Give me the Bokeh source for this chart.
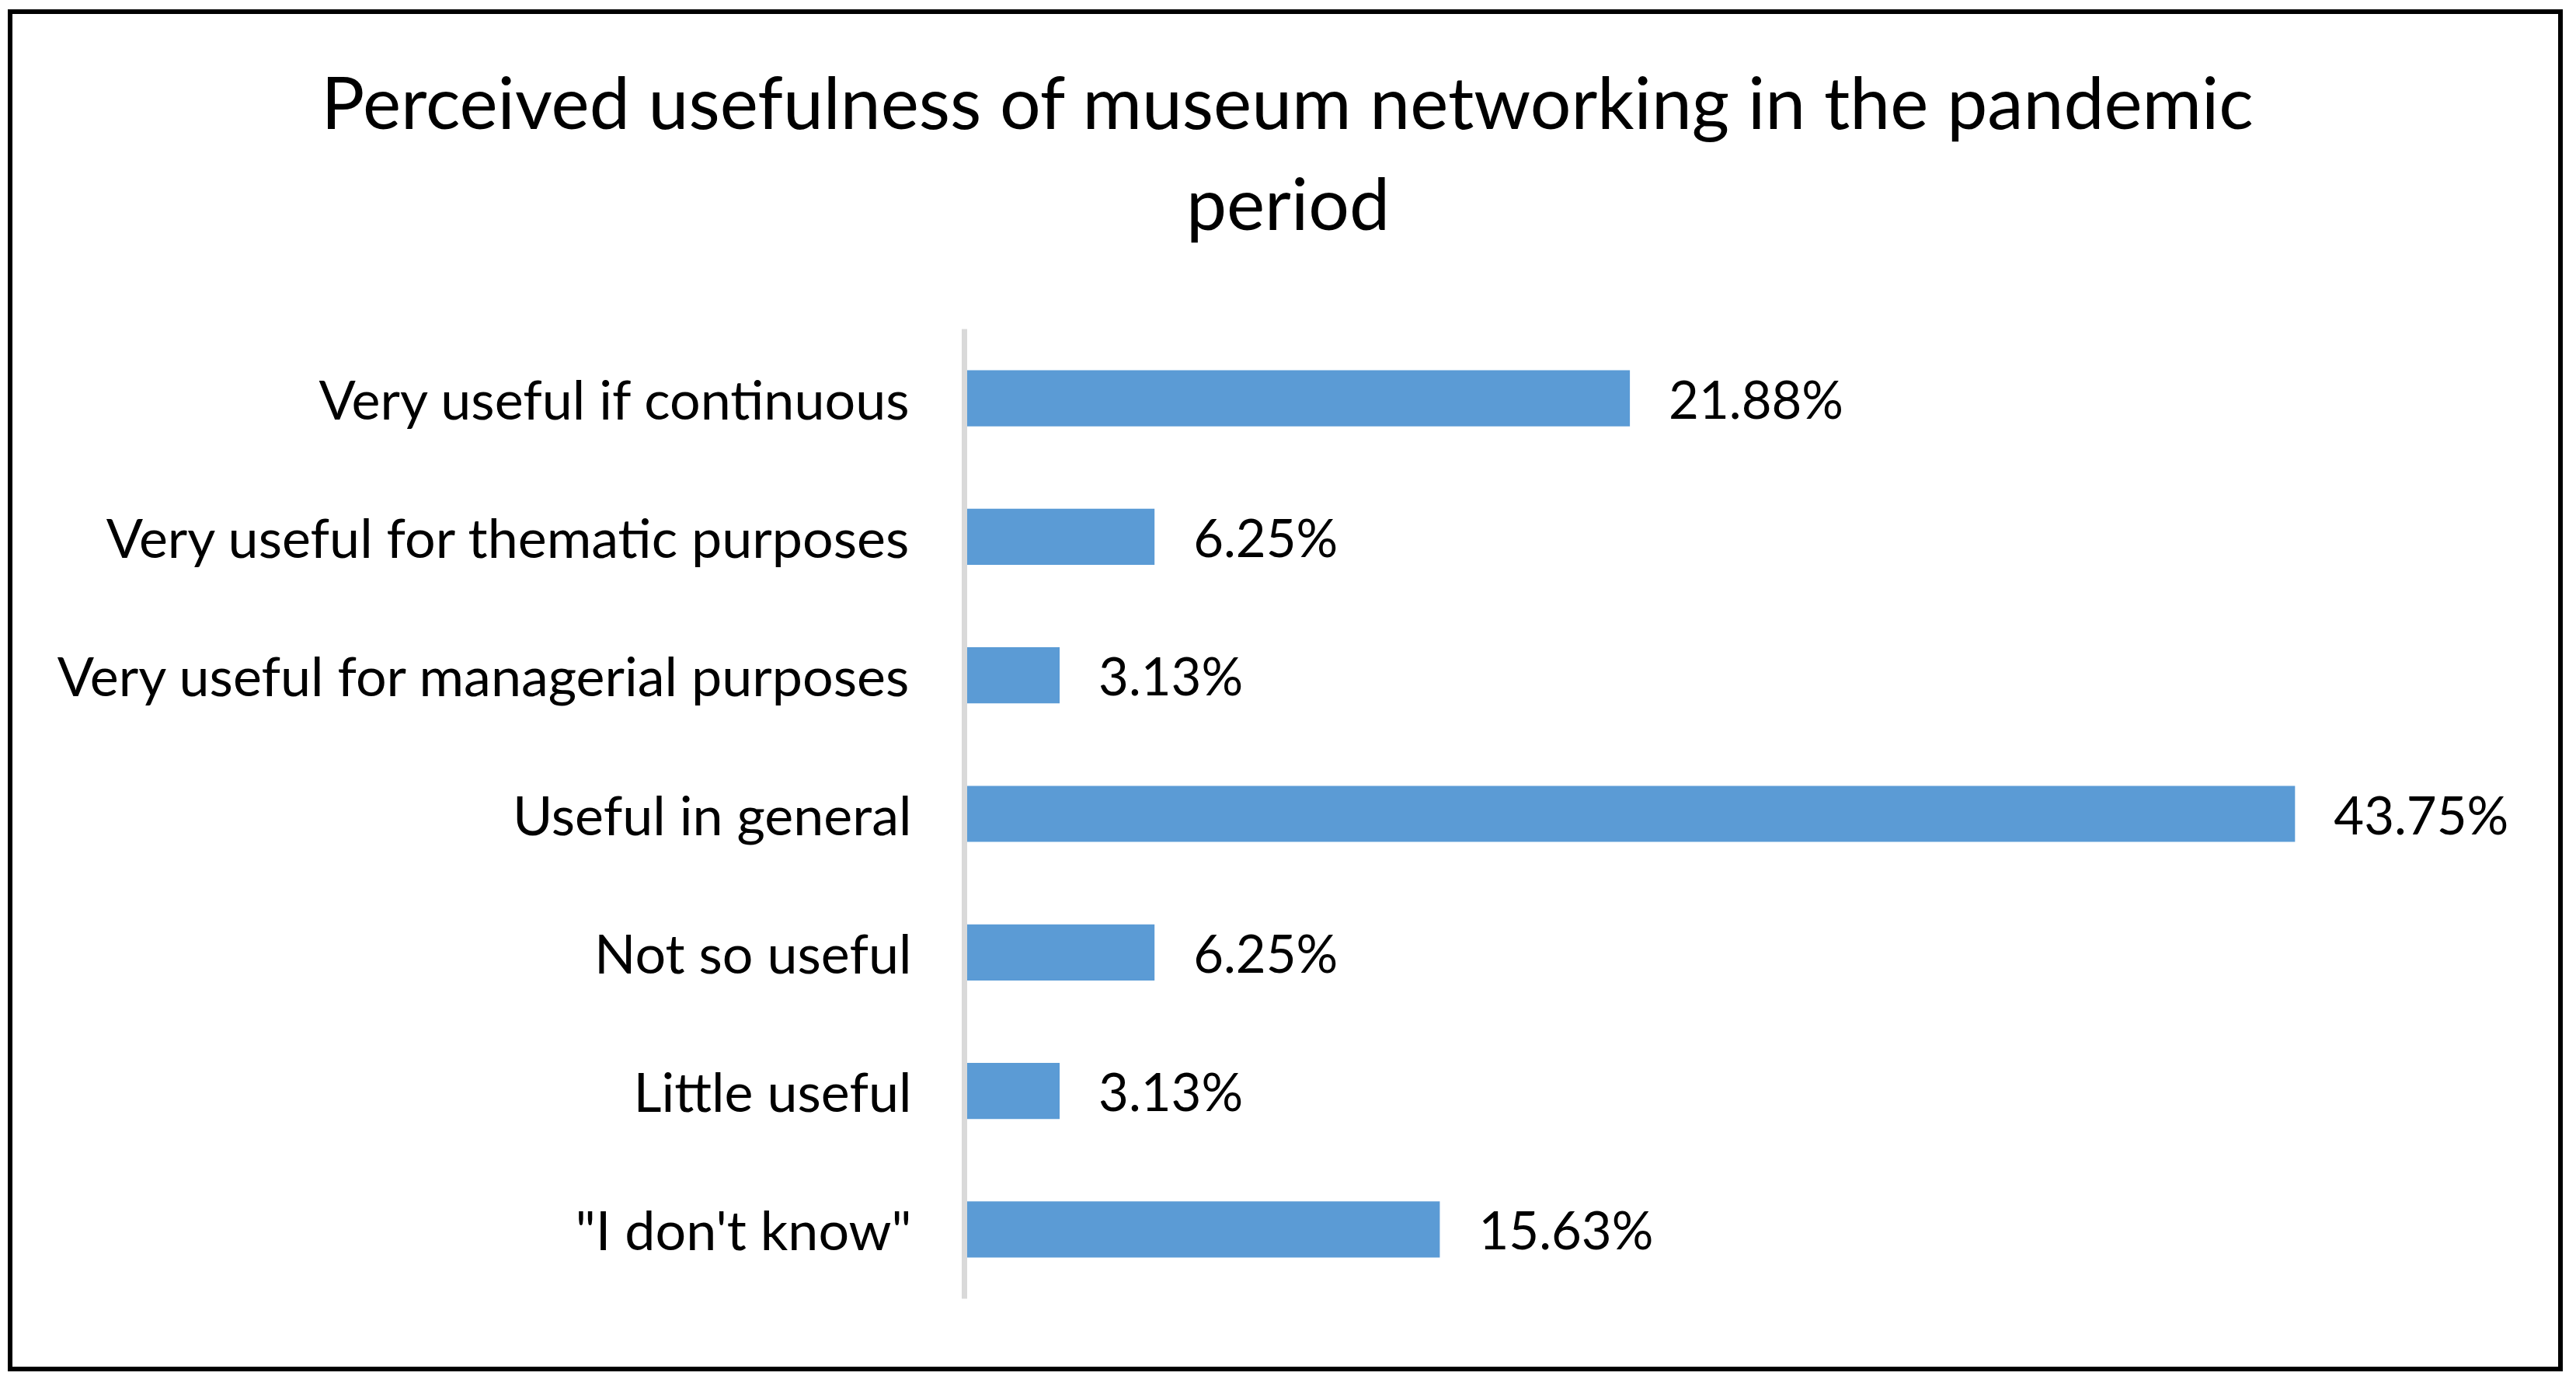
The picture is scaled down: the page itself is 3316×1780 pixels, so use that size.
from bokeh.plotting import figure
from bokeh.models import ColumnDataSource, FactorRange, Range1d, LabelSet, Label
from bokeh.core.properties import value
from bokeh.embed import file_html
from bokeh.resources import INLINE

# ---- data ----
title_line1 = "Perceived usefulness of museum networking in the pandemic"
title_line2 = "period"
categories = [
    "Very useful if continuous",
    "Very useful for thematic purposes",
    "Very useful for managerial purposes",
    "Useful in general",
    "Not so useful",
    "Little useful",
    '"I don\'t know"',
]
percentages = [21.88, 6.25, 3.13, 43.75, 6.25, 3.13, 15.63]
value_labels = [f"{v:.2f}%" for v in percentages]

FONT = "Lato"
BAR_COLOR = "#5B9BD5"

BORDER = 6
W, H = 3289, 1753
ML, MR, MT, MB = 1225, 12, 405, 100
PX_PER_UNIT = 39.15

src = ColumnDataSource(dict(cat=categories, val=percentages, lab=value_labels))

p = figure(
    width=W, height=H,
    y_range=FactorRange(factors=list(reversed(categories))),
    x_range=Range1d(0, (W - ML - MR) / PX_PER_UNIT),
    output_backend="svg", toolbar_location=None,
    x_axis_location=None, title=None,
    min_border_left=ML, min_border_right=MR, min_border_top=MT, min_border_bottom=MB,
)
p.styles = {"border": f"{BORDER}px solid black", "margin": "12px 0 0 10px"}
p.outline_line_color = None
p.background_fill_color = "white"
p.border_fill_color = "white"
p.xgrid.visible = False
p.ygrid.visible = False

p.hbar(y="cat", left=0, right="val", height=0.405, source=src,
       fill_color=BAR_COLOR, line_color=None)

ax = p.yaxis[0]
ax.axis_line_color = "#D9D9D9"
ax.axis_line_width = 7
ax.major_tick_line_color = None
ax.minor_tick_line_color = None
ax.major_tick_out = 0
ax.major_tick_in = 0
ax.major_label_standoff = 68
ax.major_label_text_font = FONT
ax.major_label_text_font_size = "70px"
ax.major_label_text_color = "black"

labels = LabelSet(x="val", y="cat", text="lab", source=src,
                  x_offset=50, y_offset=0,
                  text_align="left", text_baseline="middle",
                  text_font=value(FONT), text_font_size="67px", text_color="black")
p.add_layout(labels)

# title lines, centred on the whole canvas (x measured from the frame's left edge)
cx = (W - 2 * BORDER) / 2 + 3 - ML
p.add_layout(Label(x=cx, y=164, x_units="screen", y_units="screen",
                   text=title_line2, text_align="center", text_baseline="alphabetic",
                   text_font=FONT, text_font_size="93px", text_color="black"), "above")
p.add_layout(Label(x=cx, y=182, x_units="screen", y_units="screen",
                   text=title_line1, text_align="center", text_baseline="alphabetic",
                   text_font=FONT, text_font_size="93px", text_color="black"), "above")

open("out.html", "w").write(file_html(p, INLINE))
